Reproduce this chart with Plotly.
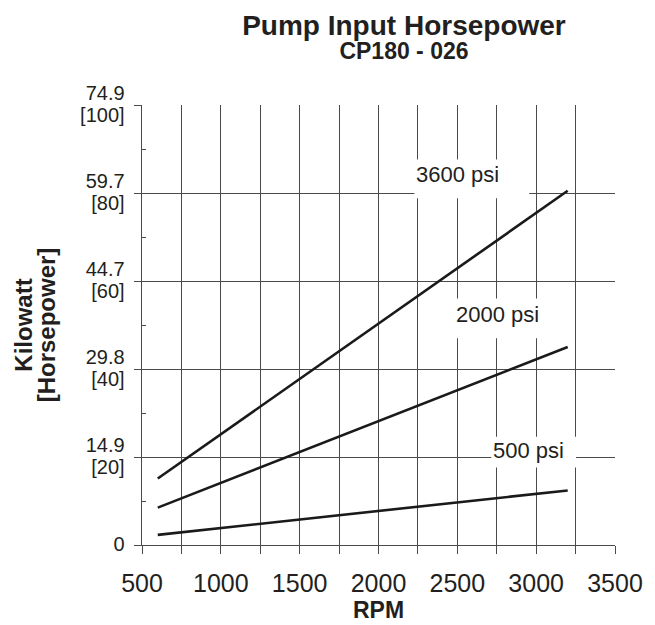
import plotly.graph_objects as go

# Data (RPM vs horsepower)
rpm = [600, 3200]
hp_3600 = [15.1, 80.5]
hp_2000 = [8.5, 45.0]
hp_500 = [2.3, 12.4]

series_names = ["3600 psi", "2000 psi", "500 psi"]
series_values = [hp_3600, hp_2000, hp_500]

y_tickvals = [0, 20, 40, 60, 80, 100]
kw_labels = ["0", "14.9", "29.8", "44.7", "59.7", "74.9"]
hp_labels = ["", "[20]", "[40]", "[60]", "[80]", "[100]"]
y_minor = [10, 30, 50, 70, 90]
x_tickvals = [500, 1000, 1500, 2000, 2500, 3000, 3500]

title_text = "Pump Input Horsepower"
subtitle_text = "CP180 - 026"

# label positions (rpm, hp) and white box extents
label_pos = [(2500, 84.2), (2753, 52.4), (2949, 21.4)]
label_boxes = [(2228, 2956, 78.8, 87.6), (2386, 3146, 47.0, 56.0), (2715, 3253, 17.6, 24.6)]

FONT = "Liberation Sans, Arial, Helvetica, sans-serif"
TXT = "#231f20"
GRID = "#4a4a4a"


def big(s, px):
    return f"<span style='font-size:{px}px'>{s}</span>"


y_ticktext = []
for kw, hp in zip(kw_labels, hp_labels):
    if hp:
        y_ticktext.append(big(kw, 20) + "<br>" + big(hp, 20))
    else:
        y_ticktext.append(big(kw, 20))

fig = go.Figure()
for name, vals in zip(series_names, series_values):
    fig.add_trace(go.Scatter(x=rpm, y=vals, mode="lines", name=name,
                             line=dict(color="#1a1a1a", width=2.6), showlegend=False))

for (x0, x1, y0, y1) in label_boxes:
    fig.add_shape(type="rect", x0=x0, x1=x1, y0=y0, y1=y1, xref="x", yref="y",
                  fillcolor="white", line=dict(width=0), layer="between")

for name, (lx, ly) in zip(series_names, label_pos):
    fig.add_annotation(x=lx, y=ly, xref="x", yref="y", text=name, showarrow=False,
                       font=dict(family=FONT, size=22, color=TXT))

fig.update_layout(
    width=647, height=617,
    margin=dict(l=134, r=39, t=97, b=77),
    paper_bgcolor="white", plot_bgcolor="white",
    title=dict(text="<b>" + big(title_text, 28) + "<br>" + big(subtitle_text, 23) + "</b>",
               x=0.612, xanchor="center", xref="container",
               y=0.957, yanchor="middle", yref="container",
               font=dict(family=FONT, size=19, color=TXT)),
    font=dict(family=FONT, color=TXT),
)

fig.update_xaxes(
    range=[500, 3500], tickvals=x_tickvals, ticks="outside", ticklen=8, tickwidth=1,
    tickcolor=GRID, showgrid=True, gridcolor=GRID, gridwidth=1,
    minor=dict(dtick=250, tick0=500, ticks="outside", ticklen=8, tickcolor=GRID,
               showgrid=True, gridcolor=GRID, gridwidth=1),
    showline=True, linecolor=GRID, linewidth=1, mirror=False, zeroline=False,
    tickfont=dict(family=FONT, size=25, color=TXT), ticklabelstandoff=8,
    title=dict(text="<b>RPM</b>", font=dict(family=FONT, size=23, color=TXT), standoff=0),
)
fig.update_yaxes(
    range=[0, 100], tickvals=y_tickvals, ticktext=y_ticktext, ticks="outside", ticklen=7,
    tickwidth=1, tickcolor=GRID, showgrid=True, gridcolor=GRID, gridwidth=1,
    minor=dict(tickvals=y_minor, ticks="inside", ticklen=4, tickcolor=GRID, showgrid=False),
    showline=True, linecolor=GRID, linewidth=1, zeroline=False,
    tickfont=dict(family=FONT, size=17, color=TXT), ticklabelstandoff=6,
    title=dict(text="<b>" + big("Kilowatt", 24) + "<br>" + big("[Horsepower]", 24) + "</b>",
               font=dict(family=FONT, size=18, color=TXT), standoff=19),
)

fig.write_html("out.html")
